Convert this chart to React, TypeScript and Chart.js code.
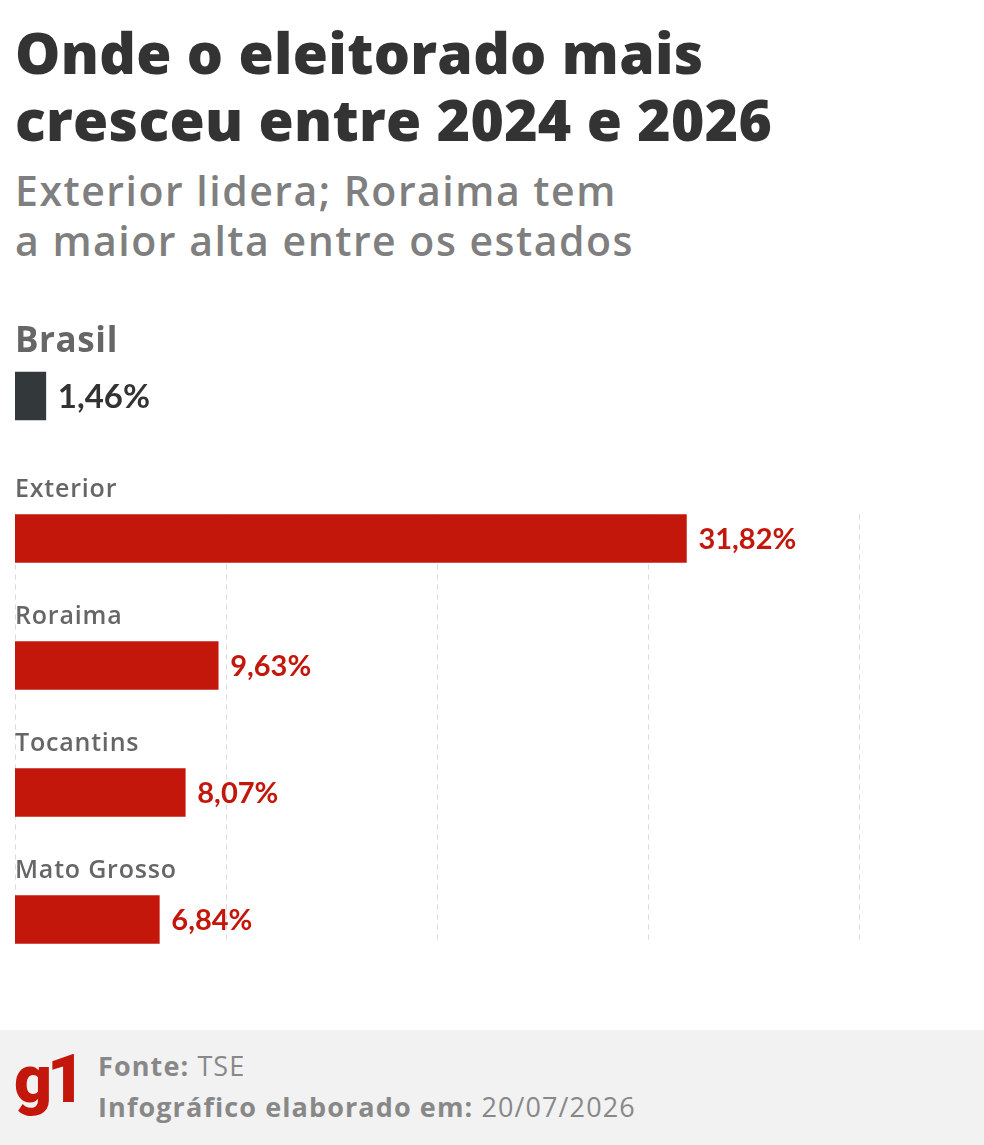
import React, { useEffect, useRef } from "react";
import { Chart, registerables } from "chart.js";

Chart.register(...registerables);

// Electorate growth 2024 -> 2026 (%)
const NATIONAL_LABELS = ["Brasil"];
const NATIONAL_GROWTH = [1.46];
const CATEGORIES = ["Exterior", "Roraima", "Tocantins", "Mato Grosso"];
const GROWTH = [31.82, 9.63, 8.07, 6.84];
const GRID_TICKS = [0, 10, 20, 30, 40];
const AXIS_MAX = 40;

const RED = "#c4170c";
const DARK = "#33393b";
const TEXT_FONT = "'Open Sans', Lato, sans-serif";
const NUM_FONT = "Lato, 'Open Sans', sans-serif";

const fmt = (v: number) => v.toFixed(2).replace(".", ",") + "%";

type AnnotOpts = {
  labelFont: string;
  labelSpacing: string;
  labelColor: string;
  labelGap: number;
  valueFont: string;
  valueColor: string;
  valueGap: number;
  grid: boolean;
};

// Draws dashed vertical guides behind the bars, plus labels above bars and values beside them
const annotations = {
  id: "barAnnotations",
  beforeDatasetsDraw(chart: any, _args: any, opts: AnnotOpts) {
    if (!opts.grid) return;
    const meta = chart.getDatasetMeta(0);
    const first = meta.data[0];
    const last = meta.data[meta.data.length - 1];
    const top = first.y - first.height / 2;
    const bottom = last.y + last.height / 2;
    const x = chart.scales.x;
    const ctx = chart.ctx;
    ctx.save();
    ctx.strokeStyle = "#d9d9d9";
    ctx.lineWidth = 1;
    ctx.setLineDash([5, 5]);
    GRID_TICKS.forEach((t) => {
      const px = Math.round(x.getPixelForValue(t)) + 0.5;
      ctx.beginPath();
      ctx.moveTo(px, top);
      ctx.lineTo(px, bottom);
      ctx.stroke();
    });
    ctx.restore();
  },
  afterDatasetsDraw(chart: any, _args: any, opts: AnnotOpts) {
    const meta = chart.getDatasetMeta(0);
    const ds = chart.data.datasets[0];
    const labels = chart.data.labels as string[];
    const ctx = chart.ctx;
    const left = chart.chartArea.left;
    ctx.save();
    meta.data.forEach((bar: any, i: number) => {
      const barTop = bar.y - bar.height / 2;
      ctx.textAlign = "left";
      ctx.textBaseline = "middle";
      ctx.font = opts.labelFont;
      ctx.letterSpacing = opts.labelSpacing;
      ctx.fillStyle = opts.labelColor;
      ctx.fillText(labels[i], left, barTop - opts.labelGap);
      ctx.font = opts.valueFont;
      ctx.letterSpacing = "0px";
      ctx.fillStyle = opts.valueColor;
      ctx.fillText(fmt(ds.data[i] as number), bar.x + opts.valueGap, bar.y + 1);
    });
    ctx.restore();
  },
};

function makeConfig(labels: string[], values: number[], color: string, plugin: AnnotOpts): any {
  return {
    type: "bar",
    data: {
      labels,
      datasets: [
        {
          data: values,
          backgroundColor: color,
          borderWidth: 0,
          barThickness: 48,
        },
      ],
    },
    options: {
      indexAxis: "y",
      responsive: false,
      animation: false,
      layout: { padding: { left: 15, right: 125, top: 0, bottom: 0 } },
      scales: {
        x: { display: false, min: 0, max: AXIS_MAX, grid: { display: false } },
        y: { display: false, grid: { display: false } },
      },
      plugins: {
        legend: { display: false },
        tooltip: { enabled: false },
        barAnnotations: plugin,
      },
    },
    plugins: [annotations],
  };
}

function BarChart(props: {
  labels: string[];
  values: number[];
  color: string;
  height: number;
  top: number;
  opts: AnnotOpts;
}) {
  const ref = useRef<HTMLCanvasElement | null>(null);
  useEffect(() => {
    if (!ref.current) return;
    const chart = new Chart(ref.current, makeConfig(props.labels, props.values, props.color, props.opts));
    return () => chart.destroy();
  }, []);
  return (
    <canvas
      ref={ref}
      width={984}
      height={props.height}
      style={{ position: "absolute", left: 0, top: props.top, width: 984, height: props.height }}
    />
  );
}

export default function App() {
  useEffect(() => {
    document.body.style.margin = "0";
  }, []);

  const text = (style: React.CSSProperties, children: React.ReactNode) => (
    <div style={{ position: "absolute", left: 15, whiteSpace: "nowrap", fontFamily: TEXT_FONT, ...style }}>
      {children}
    </div>
  );

  return (
    <div style={{ position: "relative", width: 984, height: 1145, background: "#fff", overflow: "hidden" }}>
      {text(
        { top: 19, fontSize: 57, lineHeight: "67px", fontWeight: 800, color: "#333333", letterSpacing: 0.3 },
        <>
          Onde o eleitorado mais
          <br />
          cresceu entre 2024 e 2026
        </>
      )}
      {text(
        { top: 165, fontSize: 41, lineHeight: "50px", fontWeight: 600, color: "#7f7f7f", letterSpacing: 1.5 },
        <>
          Exterior lidera; Roraima tem
          <br />
          a maior alta entre os estados
        </>
      )}

      <BarChart
        labels={NATIONAL_LABELS}
        values={NATIONAL_GROWTH}
        color={DARK}
        top={300}
        height={192}
        opts={{
          labelFont: `700 35px ${TEXT_FONT}`,
          labelSpacing: "0.6px",
          labelColor: "#666666",
          labelGap: 30,
          valueFont: `700 33px ${NUM_FONT}`,
          valueColor: "#333333",
          valueGap: 12,
          grid: false,
        }}
      />
      <BarChart
        labels={CATEGORIES}
        values={GROWTH}
        color={RED}
        top={475}
        height={508}
        opts={{
          labelFont: `600 25px ${TEXT_FONT}`,
          labelSpacing: "0.8px",
          labelColor: "#666666",
          labelGap: 25,
          valueFont: `700 29px ${NUM_FONT}`,
          valueColor: RED,
          valueGap: 12,
          grid: true,
        }}
      />

      <div style={{ position: "absolute", left: 0, top: 1030, width: 984, height: 115, background: "#f2f2f2" }} />
      <div
        style={{
          position: "absolute",
          left: 14,
          top: 1040,
          fontFamily: "Roboto, Lato, sans-serif",
          fontWeight: 900,
          fontSize: 66,
          lineHeight: "80px",
          color: RED,
          letterSpacing: -5,
        }}
      >
        g1
      </div>
      {text(
        { left: 98, top: 1045, fontSize: 27, lineHeight: "41px", color: "#888888", letterSpacing: 1.1 },
        <>
          <span style={{ fontWeight: 700 }}>Fonte:</span> <span style={{ fontWeight: 400 }}>TSE</span>
          <br />
          <span style={{ fontWeight: 700 }}>Infográfico elaborado em:</span>{" "}
          <span style={{ fontWeight: 400 }}>20/07/2026</span>
        </>
      )}
    </div>
  );
}
